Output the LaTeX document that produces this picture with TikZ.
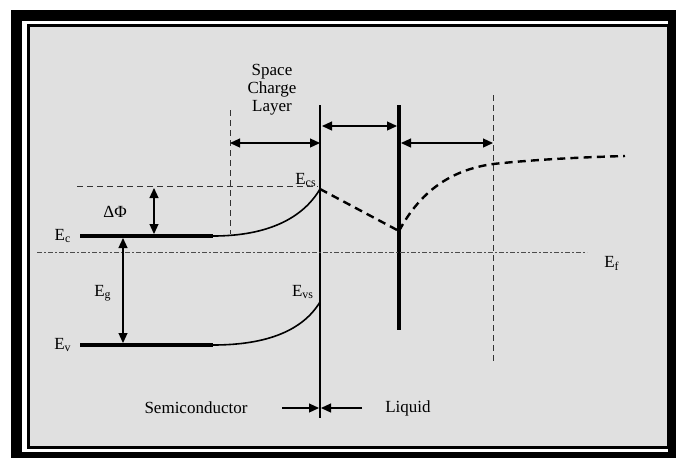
\documentclass[tikz,border=0pt]{standalone}
\usepackage{fontspec}
\setmainfont{Liberation Serif}
\usetikzlibrary{arrows.meta}
\tikzset{
  lvl/.style={line width=2pt},
  bandcurve/.style={line width=0.8pt},
  guide/.style={line width=0.5pt, black!80, dash pattern=on 3pt off 2pt},
  ferm/.style={line width=0.5pt, black!70, dash pattern=on 2.5pt off 1.2pt on 0.6pt off 1.2pt},
  pot/.style={line width=1.2pt, dash pattern=on 4pt off 2.6pt},
  dim/.style={line width=0.6pt, {Triangle[length=5pt,width=4.5pt]}-{Triangle[length=5pt,width=4.5pt]}},
  marker/.style={line width=0.6pt, -{Triangle[length=5pt,width=4.5pt]}},
  lbl/.style={font=\fontsize{8.5}{9}\selectfont, inner sep=0pt},
}

\begin{document}
\begin{tikzpicture}[x=0.5pt,y=-0.5pt]
  \useasboundingbox (0,0) rectangle (676,457);
  \clip (0,0) rectangle (676,457);

  % background and frame
  \fill[white] (0,0) rectangle (676,457);
  \fill[black!12] (29,26) rectangle (668,446);
  \draw[line width=5.5pt] (16,15.5) rectangle (673.5,457.5);
  \draw[line width=1.5pt] (28.5,25.5) rectangle (668,447);

  % key points
  \coordinate (ecL) at (80,236);
  \coordinate (ecB) at (213,236);
  \coordinate (ecs) at (320,189);
  \coordinate (evL) at (80,345);
  \coordinate (evB) at (213,345);
  \coordinate (evs) at (320,302);
  \coordinate (hlp) at (399,231);
  \coordinate (dfx) at (493,164);
  \coordinate (dfe) at (625,156);

  % interface and Helmholtz plane
  \draw[line width=1.3pt] (320,105) coordinate (ifT) -- (320,418) coordinate (ifB);
  \draw[line width=1.8pt] (399,105) coordinate (hpT) -- (399,330) coordinate (hpB);

  % guide lines
  \draw[guide] (230,110) coordinate (sclT) -- (230,234) coordinate (sclB);
  \draw[guide] (493,95) coordinate (dlT) -- (493,362) coordinate (dlB);
  \draw[guide] (77,186) coordinate (csL) -- (318,186) coordinate (csR);
  \draw[ferm] (37,252) coordinate (efL) -- (587,252) coordinate (efR);

  % band edges
  \draw[lvl] (ecL) -- (ecB);
  \draw[bandcurve] (ecB) .. controls (268,236) and (303,218) .. (ecs);
  \draw[lvl] (evL) -- (evB);
  \draw[bandcurve] (evB) .. controls (268,345) and (303,330) .. (evs);

  % potential in the liquid
  \draw[pot] (ecs) -- (hlp);
  \draw[pot] (hlp) .. controls (420,192) and (450,170) .. (dfx)
    .. controls (540,159) and (590,157) .. (dfe);

  % widths
  \draw[dim] (sclT |- 0,143) -- (ifT |- 0,143);
  \draw[dim] (322,126) coordinate (hlL) -- (397,126) coordinate (hlR);
  \draw[dim] (401,143) coordinate (dlL) -- (dlT |- 0,143);

  % energy differences
  \draw[dim] (154,188) coordinate (dpT) -- (154,234) coordinate (dpB);
  \draw[dim] (123,238) coordinate (egT) -- (123,343) coordinate (egB);

  % bottom markers
  \draw[marker] (282,408) coordinate (scA) -- (319,408);
  \draw[marker] (362,408) coordinate (lqA) -- (321,408);

  % labels
  \node[lbl, align=center] (lblSCL) at (272,90) {Space\\Charge\\Layer};
  \node[lbl] (lblEc) at (63,236) {E\textsubscript{c}};
  \node[lbl] (lblEv) at (63,345) {E\textsubscript{v}};
  \node[lbl] (lblEg) at (103,293) {E\textsubscript{g}};
  \node[lbl] (lblDP) at (115,212) {ΔΦ};
  \node[lbl] (lblEcs) at (306,180) {E\textsubscript{cs}};
  \node[lbl] (lblEvs) at (303,292) {E\textsubscript{vs}};
  \node[lbl] (lblEf) at (612,263) {E\textsubscript{f}};
  \node[lbl] (lblSemi) at (196,408) {Semiconductor};
  \node[lbl] (lblLiq) at (408,408) {Liquid};
\end{tikzpicture}
\end{document}
